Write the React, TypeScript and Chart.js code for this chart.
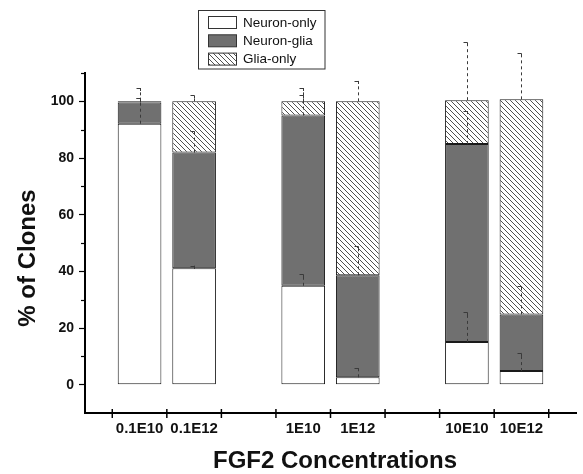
import { useEffect, useRef } from 'react';
import { Chart, registerables } from 'chart.js';

Chart.register(...registerables);

const categories = ['', '0.1E10', '0.1E12', '', '1E10', '1E12', '', '10E10', '10E12', ''];
const seriesLabels = ['Neuron-only', 'Neuron-glia', 'Glia-only'];
const neuronOnly = [null, 92.1, 41.1, null, 34.9, 2.6, null, 15.1, 4.8, null];
const neuronGlia = [null, 7.5, 40.8, null, 60.1, 36.0, null, 69.8, 20.0, null];
const gliaOnly = [null, 0.4, 18.1, null, 5.0, 61.4, null, 15.5, 75.9, null];
const neuronOnlyErr = [null, 9.2, 0.9, null, 4.2, 3.2, null, 10.4, 6.4, null];
const neuronGliaErr = [null, 1.7, 7.5, null, 7.1, 10.5, null, 11.7, 10.2, null];
const gliaOnlyErr = [null, 4.7, 2.1, null, 4.7, 7.2, null, 20.5, 16.3, null];
const yMajorTicks = [0, 20, 40, 60, 80, 100];
const yMinorTicks = [10, 30, 50, 70, 90, 110];
const xTitle = 'FGF2 Concentrations';
const yTitle = '% of Clones';

const FONT = "'Liberation Sans', Arial, Helvetica, sans-serif";
const GRAY = '#707070';

function makeHatch(): CanvasPattern | string {
  const c = document.createElement('canvas');
  c.width = 5;
  c.height = 5;
  const g = c.getContext('2d');
  if (!g) return '#ddd';
  g.fillStyle = '#ffffff';
  g.fillRect(0, 0, 5, 5);
  g.strokeStyle = '#3c3c3c';
  g.lineWidth = 0.9;
  g.beginPath();
  g.moveTo(-1, -1);
  g.lineTo(6, 6);
  g.moveTo(-1, 4);
  g.lineTo(1, 6);
  g.moveTo(4, -1);
  g.lineTo(6, 1);
  g.stroke();
  return g.createPattern(c, 'repeat') || '#ddd';
}

export default function App() {
  const ref = useRef<HTMLCanvasElement | null>(null);

  useEffect(() => {
    if (!ref.current) return;
    const hatch = makeHatch();
    const series = [neuronOnly, neuronGlia, gliaOnly];
    const errs = [neuronOnlyErr, neuronGliaErr, gliaOnlyErr];
    const fills: any[] = ['#ffffff', GRAY, hatch];

    const errorBars = {
      id: 'errorBars',
      afterDatasetsDraw(chart: any) {
        const ctx = chart.ctx;
        const y = chart.scales.y;
        ctx.save();
        ctx.strokeStyle = '#3a3a3a';
        ctx.lineWidth = 1;
        for (let i = 0; i < series.length; i++) {
          const meta = chart.getDatasetMeta(i);
          for (let j = 0; j < categories.length; j++) {
            const v = series[i][j];
            const e = errs[i][j];
            if (v == null || !e) continue;
            let cum = 0;
            for (let k = 0; k <= i; k++) cum += (series[k][j] as number) || 0;
            const el = meta.data[j];
            const x = Math.round(el.x) + 0.5;
            const y0 = y.getPixelForValue(cum);
            const y1 = y.getPixelForValue(cum + e);
            ctx.setLineDash([3, 3]);
            ctx.beginPath();
            ctx.moveTo(x, y0);
            ctx.lineTo(x, y1);
            ctx.stroke();
            ctx.setLineDash([]);
            ctx.beginPath();
            ctx.moveTo(x - 4, Math.round(y1) + 0.5);
            ctx.lineTo(x, Math.round(y1) + 0.5);
            ctx.lineTo(x, Math.round(y1) + 3);
            ctx.stroke();
          }
        }
        ctx.restore();
      },
    };

    const decorations = {
      id: 'decorations',
      afterDraw(chart: any) {
        const ctx = chart.ctx;
        const xs = chart.scales.x;
        const ys = chart.scales.y;
        const area = chart.chartArea;
        ctx.save();
        // x tick marks between categories, crossing the axis
        ctx.strokeStyle = '#000';
        ctx.lineWidth = 1.5;
        for (let i = 0; i < categories.length - 1; i++) {
          const px = (xs.getPixelForValue(i) + xs.getPixelForValue(i + 1)) / 2;
          ctx.beginPath();
          ctx.moveTo(px, area.bottom - 4);
          ctx.lineTo(px, area.bottom + 5);
          ctx.stroke();
        }
        // y minor ticks
        ctx.lineWidth = 1.2;
        for (const v of yMinorTicks) {
          const py = Math.round(ys.getPixelForValue(v)) + 0.5;
          ctx.beginPath();
          ctx.moveTo(area.left - 4, py);
          ctx.lineTo(area.left, py);
          ctx.stroke();
        }
        // axis titles
        ctx.fillStyle = '#111';
        ctx.font = `bold 24px ${FONT}`;
        ctx.textAlign = 'center';
        ctx.textBaseline = 'alphabetic';
        ctx.fillText(xTitle, 335, 468);
        ctx.save();
        ctx.translate(35, 258);
        ctx.rotate(-Math.PI / 2);
        ctx.fillText(yTitle, 0, 0);
        ctx.restore();
        // legend box
        ctx.fillStyle = '#fff';
        ctx.fillRect(198.5, 10.5, 126.5, 58.5);
        ctx.strokeStyle = '#333';
        ctx.lineWidth = 1;
        ctx.strokeRect(198.5, 10.5, 126.5, 58.5);
        ctx.font = `13.5px ${FONT}`;
        ctx.textAlign = 'left';
        ctx.textBaseline = 'middle';
        for (let i = 0; i < seriesLabels.length; i++) {
          const sy = 16.5 + i * 18.3;
          ctx.fillStyle = fills[i];
          ctx.fillRect(208.5, sy, 28, 12);
          ctx.strokeStyle = '#333';
          ctx.strokeRect(208.5, sy, 28, 12);
          ctx.fillStyle = '#111';
          ctx.fillText(seriesLabels[i], 243, sy + 6.5);
        }
        ctx.restore();
      },
    };

    const chart = new Chart(ref.current, {
      type: 'bar',
      data: {
        labels: categories,
        datasets: series.map((d, i) => ({
          label: seriesLabels[i],
          data: d as any,
          backgroundColor: fills[i],
          borderColor: '#1a1a1a',
          borderWidth: 1,
          borderSkipped: false,
          barPercentage: 0.8,
          categoryPercentage: 1,
        })),
      },
      options: {
        animation: false,
        responsive: true,
        maintainAspectRatio: false,
        layout: { padding: { top: 73, left: 0, right: 0, bottom: 0 } },
        plugins: {
          legend: { display: false },
          tooltip: { enabled: false },
          title: { display: false },
        },
        scales: {
          x: {
            type: 'category',
            stacked: true,
            offset: false,
            grid: { display: true, drawOnChartArea: false, drawTicks: false },
            border: { display: true, color: '#000', width: 2 },
            ticks: {
              autoSkip: false,
              maxRotation: 0,
              minRotation: 0,
              padding: 7,
              color: '#111',
              font: { family: FONT, size: 15, weight: 'bold' },
            },
            afterFit(scale: any) {
              scale.height = 61;
            },
          },
          y: {
            type: 'linear',
            stacked: true,
            min: -10,
            max: 110,
            grid: {
              display: true,
              drawOnChartArea: false,
              drawTicks: true,
              tickLength: 6,
              tickWidth: 1.2,
              tickColor: (c: any) =>
                c.tick && yMajorTicks.includes(c.tick.value) ? '#000' : 'rgba(0,0,0,0)',
            },
            border: { display: true, color: '#000', width: 2 },
            ticks: {
              stepSize: 10,
              padding: 5,
              color: '#111',
              font: { family: FONT, size: 14, weight: 'bold' },
              callback: (v: any) => (yMajorTicks.includes(Number(v)) ? String(v) : ''),
            },
            afterFit(scale: any) {
              scale.width = 85;
            },
          },
        },
      } as any,
      plugins: [errorBars, decorations],
    });
    return () => chart.destroy();
  }, []);

  return (
    <div style={{ position: 'absolute', left: 0, top: 0, width: 583, height: 474, background: '#fff' }}>
      <canvas ref={ref} />
    </div>
  );
}
